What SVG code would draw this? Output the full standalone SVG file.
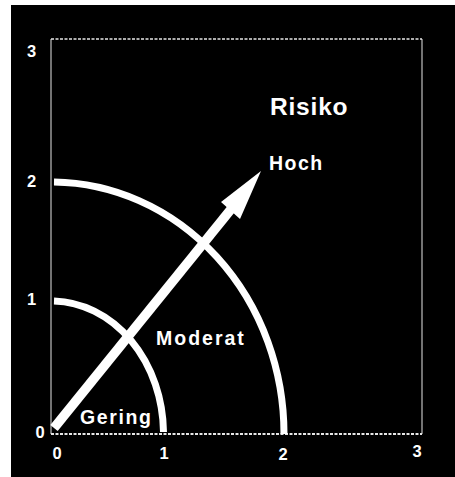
<svg xmlns="http://www.w3.org/2000/svg" width="455" height="477" viewBox="0 0 455 477">
<style>
.lbl{font-family:"Liberation Sans",Arial,sans-serif;font-weight:bold;fill:#fff}
.ax{font-size:16.5px;text-anchor:middle}
.frame{stroke:#e6e6e6;fill:none}
.arc{stroke:#fff;stroke-width:7;fill:none}
</style>
<rect x="0" y="0" width="455" height="477" fill="#fff"/>
<rect x="11" y="5" width="444" height="472" fill="#000"/>
<g id="frame">
<line class="frame" x1="51" y1="39" x2="422" y2="39" stroke-width="1.6" stroke-dasharray="3 1.5"/>
<line class="frame" x1="51" y1="434" x2="422" y2="434" stroke-width="2" stroke-dasharray="3 1.5"/>
<line class="frame" x1="51" y1="39" x2="51" y2="434" stroke-width="1"/>
<line class="frame" x1="422" y1="39" x2="422" y2="434" stroke-width="1"/>
</g>
<g id="axis-labels" class="lbl ax">
<text x="31.5" y="57">3</text>
<text x="31.5" y="187">2</text>
<text x="31.5" y="305">1</text>
<text x="40" y="438">0</text>
<text x="57" y="459">0</text>
<text x="164" y="459">1</text>
<text x="283" y="460">2</text>
<text x="417" y="457">3</text>
</g>
<g id="connectors">
<path id="arc-moderat" class="arc" d="M 54 301 A 112.5 133 0 0 1 163.5 432"/>
<path id="arc-hoch" class="arc" d="M 54 182 A 233 252 0 0 1 284 434"/>
<g id="arrow">
<line x1="54" y1="428" x2="232" y2="208" stroke="#fff" stroke-width="9.5"/>
<polygon points="261,171 221,202 240,219" fill="#fff"/>
</g>
</g>
<g id="node-risiko"><text class="lbl" x="270" y="115" font-size="24.5" letter-spacing="0.8">Risiko</text></g>
<g id="node-hoch"><text class="lbl" x="269" y="170" font-size="19.5" letter-spacing="1.5">Hoch</text></g>
<g id="node-moderat"><text class="lbl" x="156" y="345" font-size="19.5" letter-spacing="2">Moderat</text></g>
<g id="node-gering"><text class="lbl" x="80" y="424" font-size="19.5" letter-spacing="1.6">Gering</text></g>
</svg>
